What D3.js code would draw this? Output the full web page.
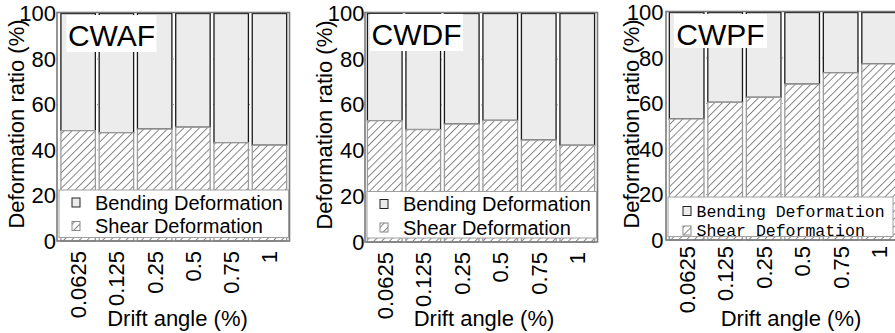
<!DOCTYPE html>
<html>
<head>
<meta charset="utf-8">
<script src="https://cdn.jsdelivr.net/npm/d3@7"></script>
<style>
  html, body { margin: 0; padding: 0; background: #fff; }
  svg { display: block; }
  text { font-family: "Liberation Sans", Arial, sans-serif; fill: #000; }
</style>
</head>
<body>
<svg id="chart" width="895" height="333"></svg>
<script>
// ---- data ----
const categories = ["0.0625", "0.125", "0.25", "0.5", "0.75", "1"];
const yTickValues = [0, 20, 40, 60, 80, 100];
const panelNames = ["CWAF", "CWDF", "CWPF"];
const seriesNames = ["Bending Deformation", "Shear Deformation"];

const shearCWAF   = [48.5, 47.6, 49.2, 50.0, 43.2, 42.1];
const bendingCWAF = [51.5, 52.4, 50.8, 50.0, 56.8, 57.9];
const shearCWDF   = [53.1, 49.2, 51.6, 53.2, 44.6, 42.3];
const bendingCWDF = [46.9, 50.8, 48.4, 46.8, 55.4, 57.7];
const shearCWPF   = [53.2, 60.5, 62.7, 68.5, 73.5, 77.4];
const bendingCWPF = [46.8, 39.5, 37.3, 31.5, 26.5, 22.6];

const panelData = [
  { name: panelNames[0], shear: shearCWAF, bending: bendingCWAF },
  { name: panelNames[1], shear: shearCWDF, bending: bendingCWDF },
  { name: panelNames[2], shear: shearCWPF, bending: bendingCWPF }
];

// ---- layout (positions only) ----
const layouts = [
  { fl: 57, fr: 289.5, top: 13.5, bottom: 241, b0: 59, b1: 288.6,
    yTitleX: 24, yTitleY: 124, xTitleX: 177.5, labelX: 56, xLabOff: 10,
    titleBox: [66.5, 15, 90, 37], legTop: 190, legBottom: 237.5, mono: false },
  { fl: 365, fr: 597.5, top: 13.5, bottom: 242, b0: 365.5, b1: 596.5,
    yTitleX: 332, yTitleY: 125, xTitleX: 484, labelX: 364.5, xLabOff: 10,
    titleBox: [370, 14, 93, 37], legTop: 191.5, legBottom: 238, mono: false },
  { fl: 666, fr: 900, top: 12.5, bottom: 240, b0: 667.4, b1: 898.4,
    yTitleX: 639, yTitleY: 124, xTitleX: 791, labelX: 663.5, xLabOff: 6,
    titleBox: [674, 14, 93, 34], legTop: 197, legBottom: 236.5, mono: true }
];

const svg = d3.select("#chart");
const defs = svg.append("defs");
const pat = defs.append("pattern")
  .attr("id", "hatch")
  .attr("patternUnits", "userSpaceOnUse")
  .attr("width", 5.5).attr("height", 5.5)
  .attr("patternTransform", "rotate(45)");
pat.append("rect").attr("width", 5.5).attr("height", 5.5).attr("fill", "#fff");
pat.append("line").attr("x1", 0.5).attr("y1", 0).attr("x2", 0.5).attr("y2", 5.5)
  .attr("stroke", "#7a7a7a").attr("stroke-width", 0.9);

panelData.forEach((pd, i) => {
  const L = layouts[i];
  const g = svg.append("g");

  const x = d3.scaleBand().domain(categories).range([L.b0, L.b1])
    .paddingInner(0.1).paddingOuter(0.05);
  const y = d3.scaleLinear().domain([0, 100]).range([L.bottom, L.top]);

  // dotted gridlines (behind bars)
  g.append("g").selectAll("line").data(yTickValues.slice(1, -1)).join("line")
    .attr("x1", L.fl).attr("x2", L.fr)
    .attr("y1", d => y(d)).attr("y2", d => y(d))
    .attr("stroke", "#999").attr("stroke-width", 1)
    .attr("stroke-dasharray", "1,3");

  const rows = categories.map((c, k) => ({ c, s: pd.shear[k], b: pd.bending[k] }));

  // bending (upper) segments
  g.append("g").selectAll("rect").data(rows).join("rect")
    .attr("x", d => x(d.c)).attr("width", x.bandwidth())
    .attr("y", d => y(d.s + d.b)).attr("height", d => y(d.s) - y(d.s + d.b))
    .attr("fill", "#ececec").attr("stroke", "#1a1a1a").attr("stroke-width", 1.3);

  // shear (lower) segments
  g.append("g").selectAll("rect").data(rows).join("rect")
    .attr("x", d => x(d.c)).attr("width", x.bandwidth())
    .attr("y", d => y(d.s)).attr("height", d => y(0) - y(d.s))
    .attr("fill", "url(#hatch)").attr("stroke", "#9a9a9a").attr("stroke-width", 1.3);

  // frame
  g.append("rect")
    .attr("x", L.fl).attr("y", L.top - 1)
    .attr("width", L.fr - L.fl).attr("height", L.bottom - L.top + 1)
    .attr("fill", "none").attr("stroke", "#7a7a7a").attr("stroke-width", 1.6);

  // y axis labels
  const ya = g.append("g").attr("transform", `translate(${L.labelX},0)`)
    .call(d3.axisLeft(y).tickValues(yTickValues).tickSize(0).tickPadding(0));
  ya.select(".domain").remove();
  ya.selectAll("text").style("font-size", "22px")
    .style("font-family", "'Liberation Sans', Arial, sans-serif").attr("fill", "#000");

  // x axis labels (rotated)
  const xa = g.append("g").attr("transform", `translate(0,${L.bottom})`)
    .call(d3.axisBottom(x).tickSize(0).tickPadding(0));
  xa.select(".domain").remove();
  xa.selectAll("text")
    .style("font-size", "22px")
    .style("font-family", "'Liberation Sans', Arial, sans-serif")
    .attr("fill", "#000")
    .attr("text-anchor", "end")
    .attr("transform", "rotate(-90)")
    .attr("x", -L.xLabOff).attr("y", 0).attr("dy", "0.36em");

  // axis titles
  g.append("text")
    .attr("transform", `translate(${L.yTitleX},${L.yTitleY}) rotate(-90)`)
    .attr("text-anchor", "middle").style("font-size", "22px")
    .text("Deformation ratio (%)");
  g.append("text")
    .attr("x", L.xTitleX).attr("y", 326)
    .attr("text-anchor", "middle").style("font-size", "22px")
    .text("Drift angle (%)");

  // panel title
  const tb = L.titleBox;
  g.append("rect").attr("x", tb[0]).attr("y", tb[1]).attr("width", tb[2]).attr("height", tb[3])
    .attr("fill", "#fff");
  g.append("text").attr("x", tb[0] + tb[2] / 2).attr("y", tb[1] + 31)
    .attr("text-anchor", "middle").style("font-size", "30px").text(pd.name);

  // legend
  const lg = g.append("g");
  lg.append("rect").attr("x", L.fl + 2).attr("y", L.legTop)
    .attr("width", Math.min(L.fr, 894) - L.fl - 3).attr("height", L.legBottom - L.legTop)
    .attr("fill", "#fff").attr("stroke", "#a0a0a0").attr("stroke-width", 1);
  const symX = L.mono ? L.fl + 17 : L.fl + 15;
  const txtX = L.mono ? L.fl + 30.5 : L.fl + 38;
  const rowY = L.mono ? [L.legTop + 14, L.legTop + 33.5] : [L.legTop + 12.5, L.legTop + 36];
  const fills = ["#ececec", "url(#hatch)"];
  const strokes = ["#222", "#888"];
  seriesNames.forEach((nm, k) => {
    const cy = rowY[k];
    lg.append("rect").attr("x", symX).attr("y", cy - 4.5).attr("width", 8).attr("height", 9)
      .attr("fill", fills[k]).attr("stroke", strokes[k]).attr("stroke-width", 1);
    const t = lg.append("text").attr("x", txtX).attr("y", cy).attr("dy", "0.35em").text(nm);
    if (L.mono) {
      t.style("font-family", "'Liberation Mono', 'DejaVu Sans Mono', monospace")
       .style("font-size", "16.5px");
    } else {
      t.style("font-size", "20px");
    }
  });
});
</script>
</body>
</html>
